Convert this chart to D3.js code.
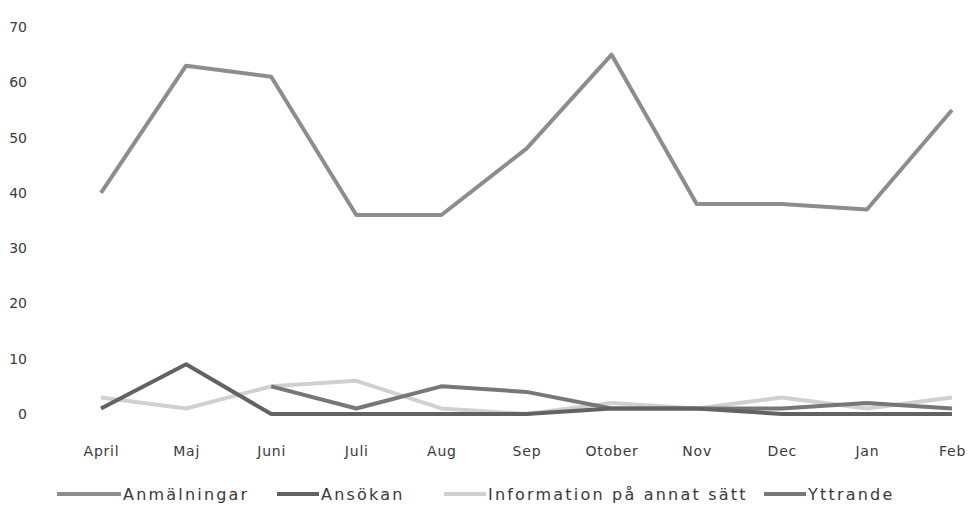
<!DOCTYPE html>
<html>
<head>
<meta charset="utf-8">
<script src="https://cdn.jsdelivr.net/npm/d3@7"></script>
<style>
  body { margin: 0; background: #fff; }
  text { font-family: "DejaVu Sans", sans-serif; fill: #3a3a3a; }
</style>
</head>
<body>
<div id="graph"></div>
<script>
// data
var months = ['April', 'Maj', 'Juni', 'Juli', 'Aug', 'Sep', 'Otober', 'Nov', 'Dec', 'Jan', 'Feb'];
var anmalningar = [40, 63, 61, 36, 36, 48, 65, 38, 38, 37, 55];
var ansokan = [1, 9, 0, 0, 0, 0, 1, 1, 0, 0, 0];
var information = [3, 1, 5, 6, 1, 0, 2, 1, 3, 1, 3];
var yttrande = [null, null, 5, 1, 5, 4, 1, 1, 1, 2, 1];
var yTicks = [0, 10, 20, 30, 40, 50, 60, 70];

var seriesNames = ['Anmälningar', 'Ansökan', 'Information på annat sätt', 'Yttrande'];
var seriesValues = [anmalningar, ansokan, information, yttrande];
var seriesColors = ['#8d8d8d', '#626262', '#d0d0d0', '#777777'];

var chart_width = 968;
var chart_height = 521;

var svg = d3.select('#graph')
  .append('svg')
  .attr('width', chart_width)
  .attr('height', chart_height);

var x_scale = d3.scalePoint()
  .domain(months)
  .range([101, 952]);

var y_scale = d3.scaleLinear()
  .domain([0, 70])
  .range([414, 27]);

// axes without lines, only labels
var y_axis = d3.axisLeft(y_scale).tickValues(yTicks).tickSize(0).tickPadding(0);
svg.append('g')
  .attr('transform', 'translate(27,0)')
  .call(y_axis)
  .call(function(g) { g.select('.domain').remove(); })
  .selectAll('text')
  .style('font-size', '14px')
  .style('font-family', '"DejaVu Sans", sans-serif')
  .attr('fill', '#3a3a3a');

var x_axis = d3.axisBottom(x_scale).tickSize(0).tickPadding(32);
svg.append('g')
  .attr('transform', 'translate(0,414)')
  .call(x_axis)
  .call(function(g) { g.select('.domain').remove(); })
  .selectAll('text')
  .style('font-size', '14px')
  .style('font-family', '"DejaVu Sans", sans-serif')
  .style('letter-spacing', '0.8px')
  .attr('fill', '#3a3a3a');

var line = d3.line()
  .defined(function(d) { return d != null; })
  .x(function(d, i) { return x_scale(months[i]); })
  .y(function(d) { return y_scale(d); });

// draw light lines first so darker ones sit on top
var order = [2, 0, 3, 1];
order.forEach(function(k) {
  svg.append('path')
    .attr('fill', 'none')
    .attr('stroke', seriesColors[k])
    .attr('stroke-width', 4)
    .attr('stroke-linejoin', 'round')
    .attr('d', line(seriesValues[k]));
});

// legend
var legendX = [57, 277, 444, 764];
var legend = svg.selectAll('.legend')
  .data(seriesNames)
  .enter()
  .append('g')
  .attr('class', 'legend')
  .attr('transform', function(d, i) { return 'translate(' + legendX[i] + ',494)'; });

legend.append('line')
  .attr('x1', 0)
  .attr('x2', function(d, i) { return i === 0 ? 64 : 42; })
  .attr('y1', 0)
  .attr('y2', 0)
  .attr('stroke', function(d, i) { return seriesColors[i]; })
  .attr('stroke-width', 4);

legend.append('text')
  .attr('x', function(d, i) { return i === 0 ? 66 : 44; })
  .attr('y', 6)
  .style('font-size', '16px')
  .style('letter-spacing', '2.2px')
  .text(function(d) { return d; });
</script>
</body>
</html>
